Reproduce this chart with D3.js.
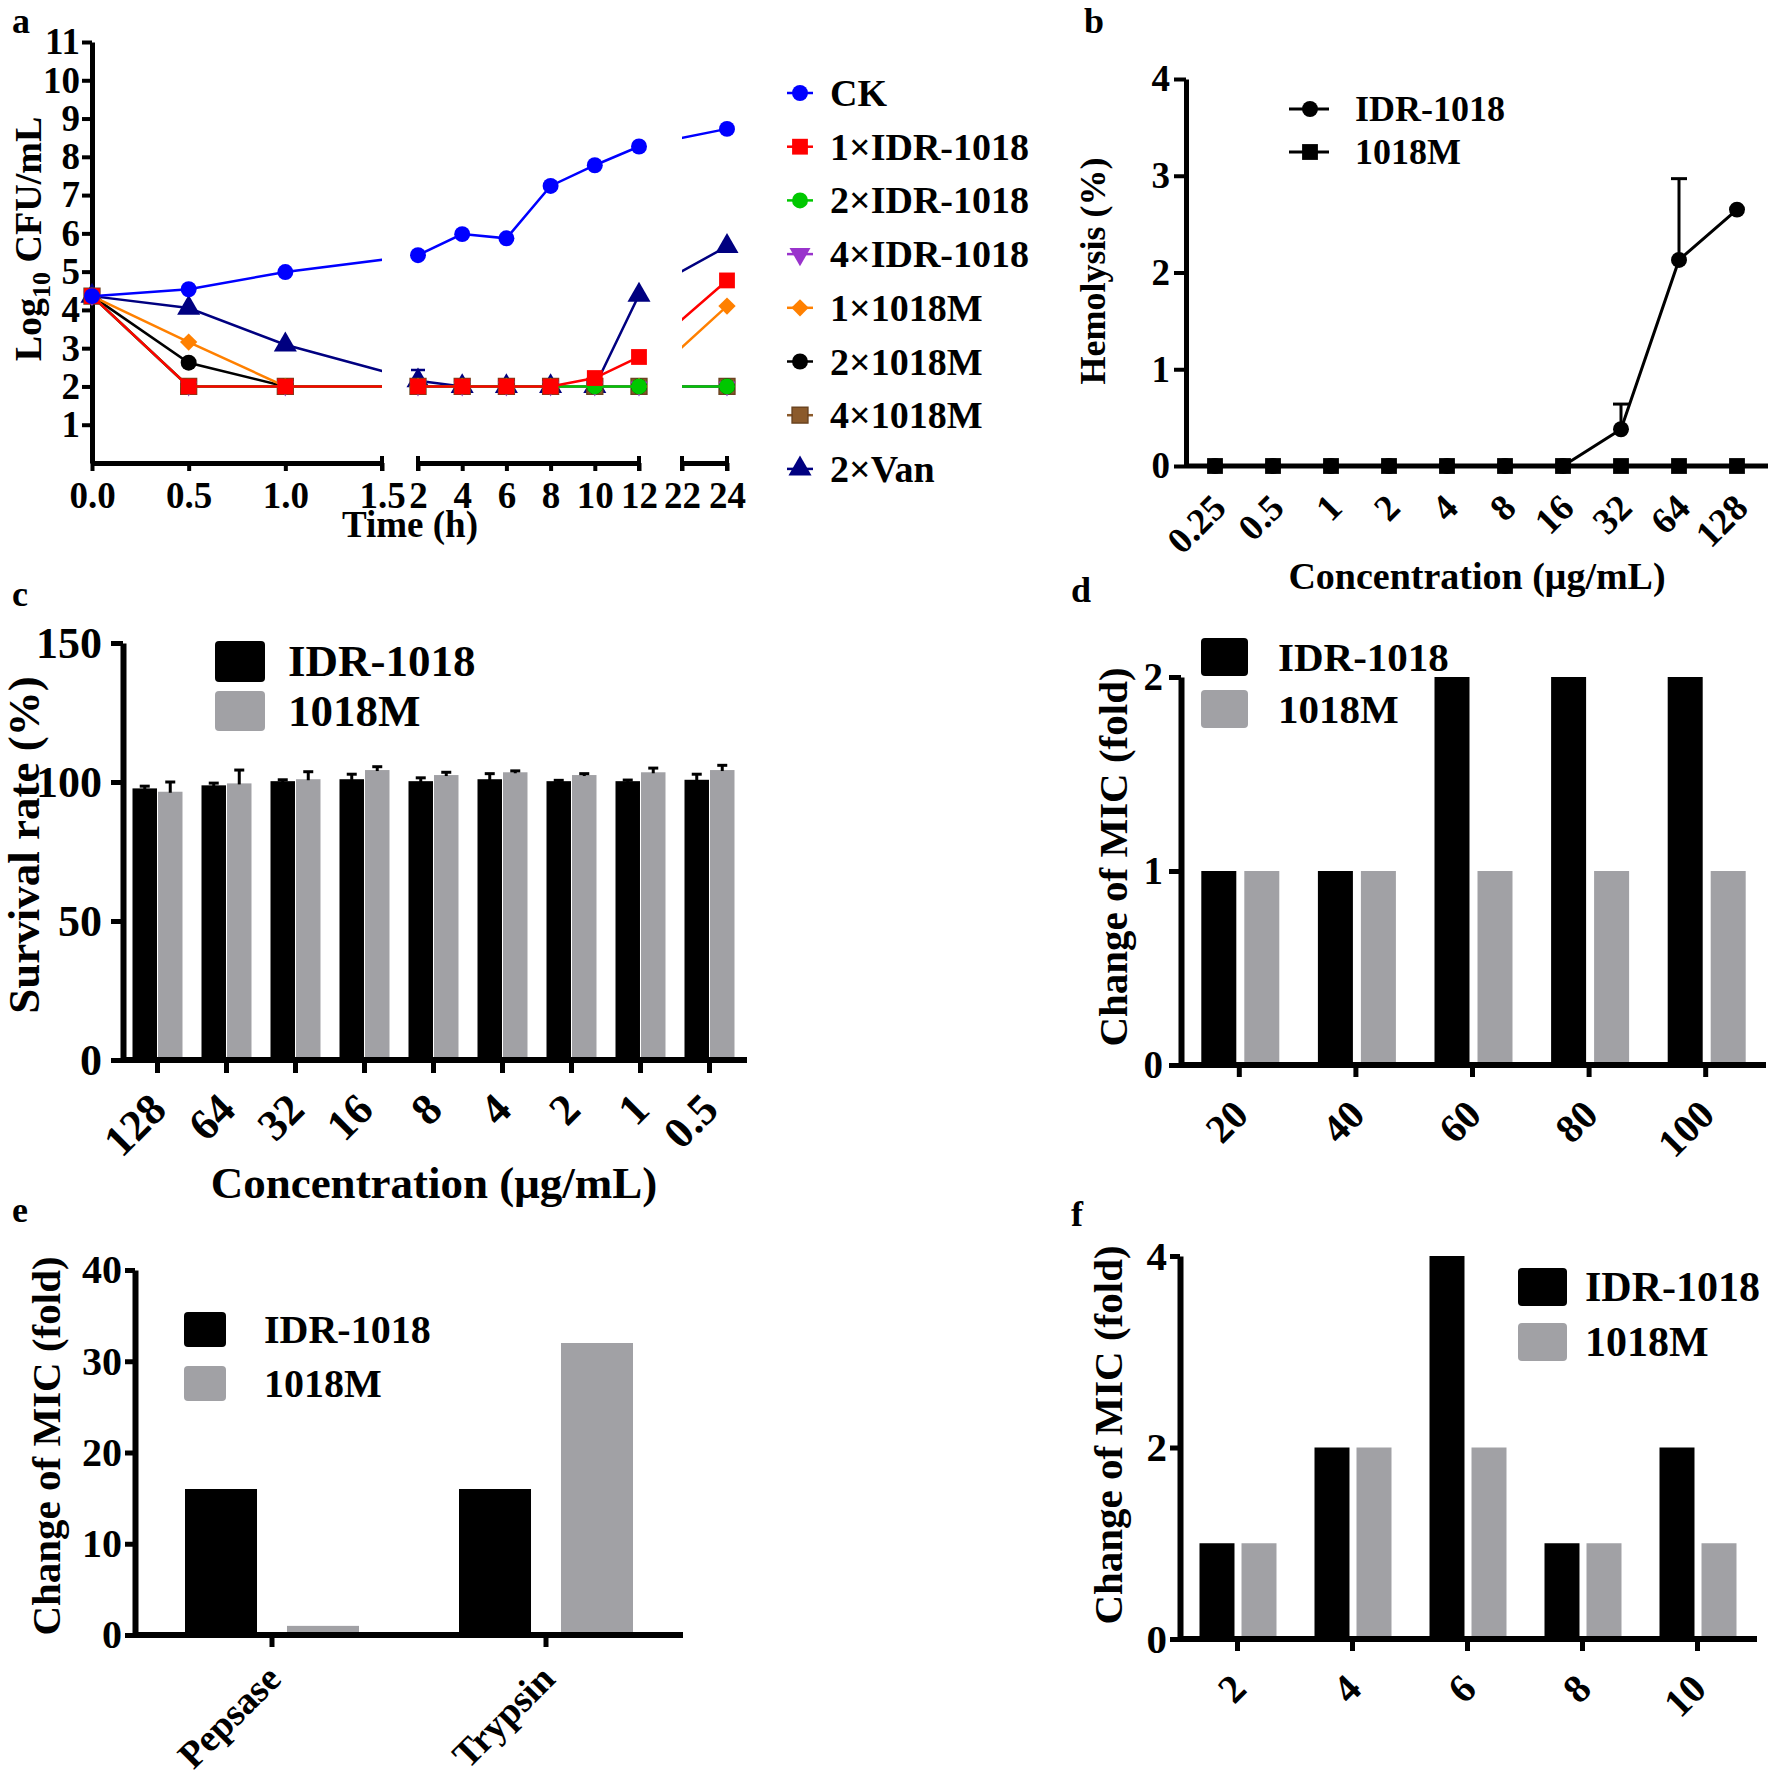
<!DOCTYPE html>
<html><head><meta charset="utf-8">
<script src="https://cdn.jsdelivr.net/npm/d3@7"></script>
<style>
body{margin:0;background:#fff}
svg{display:block}
text{font-family:"Liberation Serif","Times New Roman",serif;font-weight:bold;fill:#000}
</style>
</head><body>
<svg id="fig" width="1770" height="1781"></svg>
<script>
// ---------------- DATA ----------------
// Panel a: time-kill
const timeH = [0, 0.5, 1, 2, 4, 6, 8, 10, 12, 24];
const ckA   = [4.36, 4.54, 4.99, 5.43, 5.98, 5.87, 7.24, 7.78, 8.27, 8.73];
const idr1A = [4.36, 2, 2, 2, 2, 2, 2, 2.22, 2.77, 4.77];
const idr2A = [4.36, 2, 2, 2, 2, 2, 2, 2, 2, 2];
const idr4A = [4.36, 2, 2, 2, 2, 2, 2, 2, 2, 2];
const m1A   = [4.36, 3.16, 2, 2, 2, 2, 2, 2, 2, 4.1];
const m2A   = [4.36, 2.62, 2, 2, 2, 2, 2, 2, 2, 2];
const m4A   = [4.36, 2, 2, 2, 2, 2, 2, 2, 2, 2];
const vanA  = [4.36, 4.05, 3.09, 2.15, 2, 2, 2, 2, 4.39, 5.66];
const vanErrA = [0, 0, 0, 0.28, 0, 0, 0, 0, 0, 0];
const seriesNamesA = ["CK", "1×IDR-1018", "2×IDR-1018", "4×IDR-1018", "1×1018M", "2×1018M", "4×1018M", "2×Van"];
const yTicksA = [1, 2, 3, 4, 5, 6, 7, 8, 9, 10, 11];
const xSegTicksA = [[0, 0.5, 1, 1.5], [2, 4, 6, 8, 10, 12], [22, 24]];
const xTickLabelsA = {"0": "0.0", "0.5": "0.5", "1": "1.0", "1.5": "1.5"};

// Panel b: hemolysis
const concB = ["0.25", "0.5", "1", "2", "4", "8", "16", "32", "64", "128"];
const hemoIDR = [0, 0, 0, 0, 0, 0, 0, 0.38, 2.13, 2.65];
const hemoIDRerr = [0, 0, 0, 0, 0, 0, 0, 0.26, 0.84, 0];
const hemoM = [0, 0, 0, 0, 0, 0, 0, 0, 0, 0];
const yTicksB = [0, 1, 2, 3, 4];

// Panel c: survival
const concC = ["128", "64", "32", "16", "8", "4", "2", "1", "0.5"];
const survIDR = [97.7, 98.8, 100.3, 101.0, 100.3, 101.0, 100.3, 100.3, 100.8];
const survIDRerr = [0.8, 0.8, 0.5, 1.8, 1.2, 2.0, 0.3, 0.4, 2.0];
const survM = [96.5, 99.5, 101.0, 104.3, 102.5, 103.5, 102.5, 103.5, 104.3];
const survMerr = [3.5, 4.8, 2.7, 1.2, 1.0, 0.5, 0.5, 1.5, 1.7];
const yTicksC = [0, 50, 100, 150];

// Panel d
const concD = ["20", "40", "60", "80", "100"];
const micD_IDR = [1, 1, 2, 2, 2];
const micD_M = [1, 1, 1, 1, 1];
const yTicksD = [0, 1, 2];

// Panel e
const enzE = ["Pepsase", "Trypsin"];
const micE_IDR = [16, 16];
const micE_M = [1, 32];
const yTicksE = [0, 10, 20, 30, 40];

// Panel f
const catF = ["2", "4", "6", "8", "10"];
const micF_IDR = [1, 2, 4, 1, 2];
const micF_M = [1, 2, 2, 1, 1];
const yTicksF = [0, 2, 4];

const legendBar = ["IDR-1018", "1018M"];
const BLACK = "#000000", GRAY = "#A1A1A5";

// ---------------- HELPERS ----------------
const svg = d3.select("#fig");
svg.append("rect").attr("width", 1770).attr("height", 1781).attr("fill", "#fff");
const intFmt = d3.format("d");

function txt(g, x, y, s, size, anchor = "start", rot = 0) {
  return g.append("text")
    .attr("transform", `translate(${x},${y}) rotate(${rot})`)
    .attr("text-anchor", anchor).attr("font-size", size).text(s);
}
function fmtAxis(g, size, lw, tw) {
  g.attr("font-size", size).attr("font-family", null);
  g.select(".domain").attr("stroke", "#000").attr("stroke-width", lw);
  g.selectAll(".tick line").attr("stroke", "#000").attr("stroke-width", tw);
  g.selectAll(".tick text").attr("fill", "#000");
}
function rotLabels(g, dx, dy) {
  g.selectAll(".tick text")
    .attr("x", 0).attr("y", 0).attr("dy", 0)
    .attr("transform", `translate(${dx},${dy}) rotate(-45)`)
    .style("text-anchor", "end");
}
const symMap = {
  circle: [d3.symbolCircle, 200, 0],
  square: [d3.symbolSquare, 250, 0],
  tri: [d3.symbolTriangle, 230, 0],
  triDown: [d3.symbolTriangle, 130, 180],
  triDownLeg: [d3.symbolTriangle, 190, 180],
  diamond: [d3.symbolSquare, 150, 45]
};
function marker(g, x, y, sym, color, stroke) {
  const [t, s, r] = symMap[sym];
  g.append("path").attr("d", d3.symbol().type(t).size(s)())
    .attr("transform", `translate(${x},${y}) rotate(${r})`)
    .attr("fill", color).attr("stroke", stroke || "none").attr("stroke-width", 1.5);
}

// ---------------- PANEL a ----------------
(function () {
  const g = svg.append("g");
  const xA = d3.scaleLinear().domain([0, 1.5, 2, 12, 22, 24]).range([92, 382, 418, 639, 682, 727]);
  const yA = d3.scaleLinear().domain([0, 11]).range([463, 42]);
  txt(g, 12, 33, "a", 36);

  const ya = g.append("g").attr("transform", "translate(92,0)")
    .call(d3.axisLeft(yA).tickValues(yTicksA).tickFormat(intFmt).tickSize(10).tickSizeOuter(0).tickPadding(2));
  fmtAxis(ya, 37, 5, 4);

  const segDom = [[0, 1.5], [2, 12], [22, 24]];
  segDom.forEach((dom, i) => {
    const s = d3.scaleLinear().domain(dom).range(dom.map(xA));
    const ax = g.append("g").attr("transform", "translate(0,463)")
      .call(d3.axisBottom(s).tickValues(xSegTicksA[i])
        .tickFormat(v => xTickLabelsA[String(v)] || String(v)).tickSize(8).tickSizeOuter(0));
    fmtAxis(ax, 37, 5, 4);
    ax.selectAll(".tick text").attr("y", 45).attr("dy", 0);
    dom.forEach((v, j) => {
      if (i === 0 && j === 0) return;
      g.append("line").attr("x1", xA(v)).attr("x2", xA(v)).attr("y1", 456).attr("y2", 471)
        .attr("stroke", "#000").attr("stroke-width", 4);
    });
  });
  txt(g, 410, 537, "Time (h)", 37, "middle");
  const yl = g.append("text").attr("transform", "translate(41,239) rotate(-90)")
    .attr("text-anchor", "middle").attr("font-size", 38);
  yl.append("tspan").text("Log");
  yl.append("tspan").text("10").attr("font-size", 26).attr("dy", 9);
  yl.append("tspan").text(" CFU/mL").attr("dy", -9);

  const clip = svg.append("defs").append("clipPath").attr("id", "clipA");
  [[70, 382], [418, 639], [682, 760]].forEach(r =>
    clip.append("rect").attr("x", r[0]).attr("y", 0).attr("width", r[1] - r[0]).attr("height", 600));

  const series = [
    {v: ckA, c: "#0000FF", s: "circle"},
    {v: idr1A, c: "#FF0000", s: "square"},
    {v: idr2A, c: "#00C800", s: "circle"},
    {v: idr4A, c: "#9933CC", s: "triDown", ls: "triDownLeg"},
    {v: m1A, c: "#FF8000", s: "diamond"},
    {v: m2A, c: "#000000", s: "circle"},
    {v: m4A, c: "#8B5A2B", s: "square", st: "#6b4420"},
    {v: vanA, c: "#000080", s: "tri", err: vanErrA}
  ];
  const line = d3.line().x(d => xA(d[0])).y(d => yA(d[1]));
  series.slice().reverse().forEach(se => {
    const pts = timeH.map((t, i) => [t, se.v[i]]);
    const sg = g.append("g");
    sg.append("path").attr("d", line(pts)).attr("fill", "none").attr("stroke", se.c)
      .attr("stroke-width", 2.5).attr("clip-path", "url(#clipA)");
    if (se.err) {
      pts.forEach((p, i) => {
        if (!se.err[i]) return;
        const x = xA(p[0]), y1 = yA(p[1]), y2 = yA(p[1] + se.err[i]);
        sg.append("line").attr("x1", x).attr("x2", x).attr("y1", y1).attr("y2", y2).attr("stroke", se.c).attr("stroke-width", 2.5);
        sg.append("line").attr("x1", x - 7).attr("x2", x + 7).attr("y1", y2).attr("y2", y2).attr("stroke", se.c).attr("stroke-width", 2.5);
      });
    }
    pts.forEach(p => marker(sg, xA(p[0]), yA(p[1]), se.s, se.c, se.st));
  });

  // legend
  const lg = g.append("g");
  series.forEach((se, i) => {
    const y = 93 + i * 53.7;
    lg.append("line").attr("x1", 787).attr("x2", 813).attr("y1", y).attr("y2", y).attr("stroke", se.c).attr("stroke-width", 2.5);
    marker(lg, 800, y, se.ls || se.s, se.c, se.st);
    txt(lg, 830, y + 13, seriesNamesA[i], 38);
  });
})();

// ---------------- PANEL b ----------------
(function () {
  const g = svg.append("g");
  txt(g, 1084, 33, "b", 36);
  const x = d3.scaleBand().domain(concB).range([1186, 1766]);
  const y = d3.scaleLinear().domain([0, 4]).range([466, 79]);
  const cx = d => x(d) + x.bandwidth() / 2;

  const ya = g.append("g").attr("transform", "translate(1186,0)")
    .call(d3.axisLeft(y).tickValues(yTicksB).tickFormat(intFmt).tickSize(12).tickSizeOuter(0).tickPadding(4));
  fmtAxis(ya, 37, 5, 4);

  const line = d3.line().x(d => cx(d[0])).y(d => y(d[1]));
  g.append("path").attr("d", line(concB.map((c, i) => [c, hemoIDR[i]])))
    .attr("fill", "none").attr("stroke", "#000").attr("stroke-width", 3);
  concB.forEach((c, i) => {
    if (!hemoIDRerr[i]) return;
    const y1 = y(hemoIDR[i]), y2 = y(hemoIDR[i] + hemoIDRerr[i]);
    g.append("line").attr("x1", cx(c)).attr("x2", cx(c)).attr("y1", y1).attr("y2", y2).attr("stroke", "#000").attr("stroke-width", 3);
    g.append("line").attr("x1", cx(c) - 8).attr("x2", cx(c) + 8).attr("y1", y2).attr("y2", y2).attr("stroke", "#000").attr("stroke-width", 3);
  });
  concB.forEach((c, i) => marker(g, cx(c), y(hemoIDR[i]), "circle", "#000"));

  const xa = g.append("g").attr("transform", "translate(0,466)")
    .call(d3.axisBottom(x).tickSize(0).tickSizeOuter(0));
  fmtAxis(xa, 37, 5, 0);
  xa.select(".domain").attr("d", "M1186,0H1768");
  rotLabels(xa, 13, 44);
  concB.forEach((c, i) => marker(g, cx(c), y(hemoM[i]), "square", "#000"));

  txt(g, 1477, 589, "Concentration (μg/mL)", 38, "middle");
  txt(g, 1105, 271, "Hemolysis (%)", 36, "middle", -90);

  [["circle", 109], ["square", 152]].forEach((d, i) => {
    g.append("line").attr("x1", 1289).attr("x2", 1329).attr("y1", d[1]).attr("y2", d[1]).attr("stroke", "#000").attr("stroke-width", 3);
    marker(g, 1310, d[1], d[0], "#000");
    txt(g, 1355, d[1] + 12, legendBar[i], 36);
  });
})();

// ---------------- grouped bar helper ----------------
function barPanel(o) {
  const g = svg.append("g");
  txt(g, o.letter[1], o.letter[2], o.letter[0], 36);
  const x = d3.scaleBand().domain(o.cats).range(o.xr);
  const y = d3.scaleLinear().domain(o.ydom).range(o.yr);
  const inner = d3.scaleBand().domain(legendBar).range(o.inner).paddingInner(o.pad);
  const cx = c => x(c) + x.bandwidth() / 2;
  const vals = [o.v1, o.v2], cols = [BLACK, GRAY];
  vals.forEach((vs, k) => {
    o.cats.forEach((c, i) => {
      const x0 = cx(c) + inner(legendBar[k]);
      g.append("rect").attr("x", x0).attr("width", inner.bandwidth())
        .attr("y", y(vs[i])).attr("height", y(0) - y(vs[i])).attr("fill", cols[k]);
    });
  });
  if (o.e1) {
    [o.e1, o.e2].forEach((es, k) => {
      o.cats.forEach((c, i) => {
        const xm = cx(c) + inner(legendBar[k]) + inner.bandwidth() / 2;
        const y1 = y(vals[k][i]) + 1, y2 = y(vals[k][i] + es[i]);
        g.append("line").attr("x1", xm).attr("x2", xm).attr("y1", y1).attr("y2", y2).attr("stroke", "#000").attr("stroke-width", 3);
        g.append("line").attr("x1", xm - 5).attr("x2", xm + 5).attr("y1", y2).attr("y2", y2).attr("stroke", "#000").attr("stroke-width", 3);
      });
    });
  }
  const ya = g.append("g").attr("transform", `translate(${o.xr[0]},0)`)
    .call(d3.axisLeft(y).tickValues(o.yticks).tickFormat(intFmt).tickSize(o.ytick).tickSizeOuter(0).tickPadding(o.ypad));
  fmtAxis(ya, o.tickFont, o.lw, 5);
  const xa = g.append("g").attr("transform", `translate(0,${o.yr[0]})`)
    .call(d3.axisBottom(x).tickSize(o.xtick).tickSizeOuter(0));
  fmtAxis(xa, o.xFont, o.lw, 5);
  xa.select(".domain").attr("d", `M${o.xr[0]},0H${o.xend}`);
  rotLabels(xa, 11, o.xlabDy);
  if (o.xlabel) txt(g, o.xlabel[1], o.xlabel[2], o.xlabel[0], o.xlabel[3], "middle");
  txt(g, o.ylabel[1], o.ylabel[2], o.ylabel[0], o.ylabel[3], "middle", -90);
  o.leg.boxes.forEach((b, k) => {
    g.append("rect").attr("x", b[0]).attr("y", b[1]).attr("width", b[2]).attr("height", b[3])
      .attr("rx", 4).attr("fill", cols[k]);
    txt(g, o.leg.tx, b[1] + b[3] / 2 + o.leg.font * 0.33, legendBar[k], o.leg.font);
  });
}

// ---------------- PANEL c ----------------
barPanel({
  letter: ["c", 12, 606], cats: concC, xr: [123, 744], xend: 747, ydom: [0, 150], yr: [1060, 643],
  inner: [-25, 25], pad: 0.04, v1: survIDR, v2: survM, e1: survIDRerr, e2: survMerr,
  yticks: yTicksC, ytick: 12, ypad: 9, tickFont: 44, xFont: 44, lw: 6, xtick: 13, xlabDy: 52,
  xlabel: ["Concentration (μg/mL)", 434, 1198, 45], ylabel: ["Survival rate (%)", 39, 845, 45],
  leg: {boxes: [[215, 641, 50, 41], [215, 691, 50, 40]], tx: 288, font: 45}
});

// ---------------- PANEL d ----------------
barPanel({
  letter: ["d", 1071, 602], cats: concD, xr: [1181, 1764], xend: 1766, ydom: [0, 2], yr: [1065, 677],
  inner: [-38, 40], pad: 0.186, v1: micD_IDR, v2: micD_M,
  yticks: yTicksD, ytick: 12, ypad: 6, tickFont: 39, xFont: 40, lw: 6, xtick: 12, xlabDy: 52,
  ylabel: ["Change of MIC (fold)", 1127, 857, 41],
  leg: {boxes: [[1201, 638, 47, 38], [1201, 690, 47, 38]], tx: 1278, font: 41}
});

// ---------------- PANEL e ----------------
barPanel({
  letter: ["e", 12, 1222], cats: enzE, xr: [135, 683], xend: 683, ydom: [0, 40], yr: [1635, 1270],
  inner: [-87, 87], pad: 0.294, v1: micE_IDR, v2: micE_M,
  yticks: yTicksE, ytick: 10, ypad: 3, tickFont: 40, xFont: 38, lw: 6, xtick: 12, xlabDy: 46,
  ylabel: ["Change of MIC (fold)", 60, 1446, 41],
  leg: {boxes: [[184, 1312, 42, 35], [184, 1366, 42, 35]], tx: 264, font: 40}
});

// ---------------- PANEL f ----------------
barPanel({
  letter: ["f", 1071, 1226], cats: catF, xr: [1180, 1755], xend: 1757, ydom: [0, 4], yr: [1639, 1256],
  inner: [-38, 39], pad: 0.167, v1: micF_IDR, v2: micF_M,
  yticks: yTicksF, ytick: 10, ypad: 3, tickFont: 41, xFont: 40, lw: 6, xtick: 12, xlabDy: 52,
  ylabel: ["Change of MIC (fold)", 1122, 1435, 41],
  leg: {boxes: [[1518, 1268, 49, 38], [1518, 1323, 49, 38]], tx: 1585, font: 42}
});
</script>
</body></html>
